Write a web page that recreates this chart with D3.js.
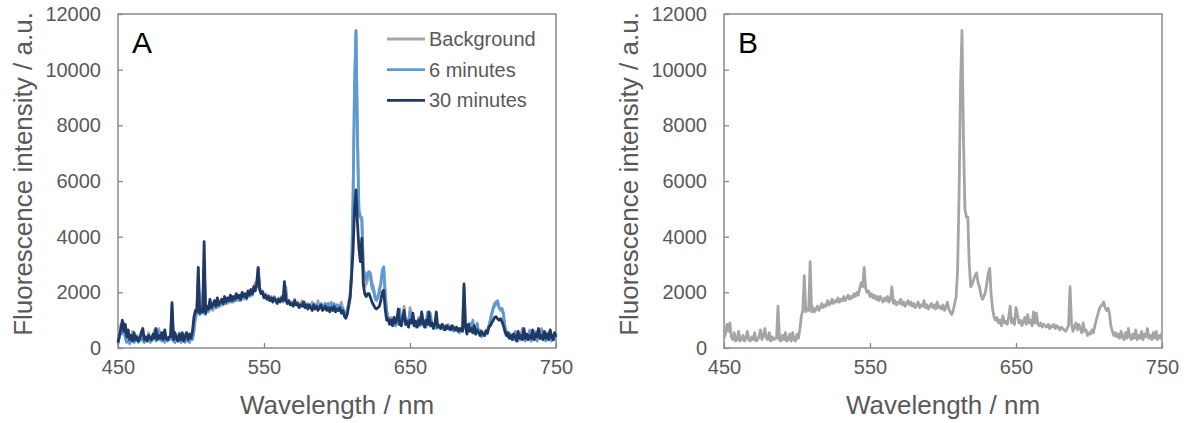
<!DOCTYPE html>
<html><head><meta charset="utf-8">
<script src="https://cdn.jsdelivr.net/npm/d3@7"></script>
<style>
html,body{margin:0;padding:0;background:#fff;}
svg{display:block;font-family:"Liberation Sans",Arial,sans-serif;}
</style></head><body>
<svg id="chart" width="1190" height="423"></svg>
<script>
// wavelength grid, 1 nm
const wavelengths = d3.range(450, 751, 1);

const background = [
350, 500, 850, 600, 900, 400, 300, 550, 250, 300,
600, 250, 300, 450, 250, 350, 600, 300, 250, 400,
300, 550, 250, 300, 400, 650, 300, 450, 700, 350,
300, 550, 250, 400, 300, 350, 350, 1500, 300, 250,
450, 300, 550, 250, 300, 500, 250, 550, 300, 250,
500, 350, 700, 1150, 1350, 2600, 1300, 1400, 1350, 3100,
1300, 1450, 1300, 1400, 1500, 1350, 1450, 1600, 1450, 1550,
1500, 1700, 1550, 1600, 1750, 1600, 1700, 1650, 1800, 1650,
1750, 1700, 1850, 1700, 1800, 1900, 1750, 1850, 1800, 1950,
1850, 2000, 1900, 2150, 2350, 2200, 2900, 2150, 2000, 2050,
1850, 1950, 1800, 1900, 1750, 1850, 1700, 1850, 1750, 1650,
1800, 1700, 1850, 1650, 1750, 2200, 1600, 1700, 1550, 1650,
1600, 1750, 1550, 1650, 1500, 1600, 1700, 1550, 1650, 1500,
1600, 1450, 1550, 1650, 1450, 1550, 1500, 1700, 1450, 1550,
1400, 1500, 1600, 1450, 1550, 1400, 1650, 1450, 1500, 1400,
1550, 1350, 1450, 1650, 1400, 1300, 1200, 1350, 1600, 1850,
2800, 5500, 9400, 11400, 7600, 5000, 4700, 4700, 3000, 2200,
2300, 2450, 2600, 2700, 2350, 2200, 1900, 1750, 1850, 2000,
2300, 2700, 2860, 1900, 1400, 1100, 1000, 1100, 900, 1000,
800, 1150, 900, 950, 850, 1100, 1500, 900, 1050, 850,
1450, 1200, 900, 1000, 800, 950, 1100, 850, 1200, 900,
1000, 800, 1300, 900, 1250, 850, 800, 900, 750, 850,
800, 750, 850, 700, 800, 750, 850, 700, 800, 750,
650, 750, 700, 650, 600, 700, 800, 2200, 900, 600,
750, 900, 650, 850, 700, 550, 900, 600, 650, 450,
550, 500, 650, 550, 800, 1000, 1200, 1400, 1500, 1550,
1650, 1450, 1350, 1430, 1250, 800, 600, 450, 550, 400,
500, 350, 600, 400, 300, 550, 350, 700, 400, 300,
500, 350, 650, 300, 450, 350, 600, 300, 500, 400,
700, 350, 450, 300, 550, 350, 600, 300, 450, 350,
550];

const sixMinutes = [
150, 400, 700, 500, 800, 350, 200, 450, 150, 300,
500, 200, 250, 400, 200, 300, 500, 250, 200, 350,
250, 450, 200, 250, 350, 550, 250, 400, 600, 300,
250, 450, 200, 350, 250, 300, 300, 1300, 250, 200,
400, 250, 450, 200, 250, 450, 200, 450, 250, 200,
400, 300, 600, 1050, 1250, 2400, 1200, 1300, 1250, 2900,
1200, 1400, 1350, 1650, 1400, 1500, 1600, 1450, 1700, 1500,
1600, 1700, 1550, 1750, 1600, 1750, 1650, 1800, 1650, 1800,
1700, 1850, 1750, 1850, 1700, 1900, 1800, 1900, 1750, 1950,
1850, 2000, 1900, 2150, 2250, 2200, 2750, 2150, 2000, 2050,
1850, 1900, 1800, 1850, 1750, 1800, 1700, 1800, 1750, 1650,
1750, 1700, 1750, 1700, 1900, 2000, 1600, 1700, 1550, 1600,
1550, 1700, 1550, 1600, 1500, 1550, 1550, 1650, 1500, 1550,
1500, 1550, 1500, 1450, 1600, 1500, 1550, 1450, 1550, 1600,
1450, 1550, 1600, 1450, 1600, 1450, 1600, 1500, 1600, 1450,
1550, 1450, 1550, 1400, 1450, 1250, 1200, 1350, 1650, 1900,
2700, 5300, 9300, 11400, 7700, 4900, 4700, 4600, 2900, 2600,
2450, 2700, 2750, 2500, 2150, 2050, 1800, 1700, 1800, 2100,
2300, 2800, 2920, 2000, 1300, 1050, 900, 1050, 850, 950,
800, 1100, 850, 1400, 800, 1050, 1200, 850, 1000, 800,
1300, 1100, 850, 950, 750, 900, 1050, 800, 1150, 850,
950, 750, 1250, 850, 1150, 800, 750, 850, 700, 800,
750, 700, 800, 650, 750, 700, 800, 650, 750, 700,
600, 700, 650, 600, 550, 650, 750, 1200, 800, 550,
700, 850, 600, 1000, 650, 500, 850, 550, 600, 400,
500, 450, 600, 500, 750, 1000, 1250, 1450, 1600, 1650,
1700, 1450, 1380, 1400, 1200, 750, 500, 400, 500, 350,
450, 300, 550, 350, 250, 500, 300, 650, 350, 250,
450, 300, 600, 250, 400, 300, 550, 250, 450, 350,
650, 300, 400, 250, 500, 300, 550, 250, 400, 300,
500];

const thirtyMinutes = [
200, 450, 700, 1000, 600, 850, 400, 650, 300, 450,
250, 550, 300, 400, 250, 350, 550, 700, 300, 400,
250, 450, 350, 300, 500, 350, 700, 300, 450, 350,
550, 300, 650, 350, 300, 400, 400, 1630, 300, 550,
350, 250, 500, 300, 550, 250, 400, 550, 300, 500,
350, 600, 1100, 1350, 1300, 2900, 1250, 1400, 1300, 3820,
1250, 1500, 1400, 1750, 1450, 1550, 1700, 1500, 1800, 1550,
1650, 1750, 1600, 1850, 1650, 1800, 1700, 1900, 1700, 1850,
1750, 1950, 1800, 1900, 1750, 2000, 1850, 1950, 1800, 2050,
1900, 2100, 1950, 2200, 2050, 2300, 2890, 2100, 1950, 2000,
1800, 1900, 1750, 1850, 1700, 1800, 1650, 1800, 1700, 1600,
1750, 1650, 1800, 1700, 2380, 1700, 1600, 1700, 1550, 1600,
1500, 1700, 1550, 1600, 1450, 1550, 1500, 1650, 1450, 1550,
1400, 1550, 1450, 1350, 1550, 1400, 1500, 1350, 1450, 1550,
1350, 1400, 1500, 1350, 1450, 1300, 1450, 1350, 1500, 1300,
1400, 1350, 1450, 1250, 1350, 1150, 1065, 1200, 1500, 1800,
2600, 3500, 5000, 5680, 4500, 3600, 3100, 3950, 2300, 1950,
1850, 1950, 1950, 1800, 1650, 1550, 1450, 1400, 1450, 1500,
1700, 2000, 2080, 1400, 1000, 1050, 850, 1000, 800, 1100,
900, 1000, 1400, 850, 800, 1100, 1350, 850, 950, 750,
1000, 900, 1250, 800, 950, 750, 1000, 850, 1300, 900,
750, 1000, 850, 1300, 800, 900, 700, 850, 1300, 750,
800, 700, 850, 750, 650, 800, 700, 750, 650, 800,
700, 650, 750, 600, 700, 650, 600, 2300, 750, 500,
850, 600, 700, 550, 800, 500, 650, 550, 450, 600,
500, 450, 600, 550, 750, 800, 900, 1000, 1100, 1125,
1050, 1000, 1050, 950, 800, 600, 450, 550, 350, 450,
300, 500, 400, 250, 600, 350, 450, 300, 700, 350,
500, 300, 450, 350, 650, 300, 500, 400, 700, 350,
450, 300, 600, 350, 500, 300, 650, 400, 300, 550,
400];

const seriesNames = ["Background", "6 minutes", "30 minutes"];
const seriesColors = ["#a5a5a5", "#5b9bd5", "#203864"];
const seriesValues = [background, sixMinutes, thirtyMinutes];
const xTicks = [450, 550, 650, 750];
const yTicks = [0, 2000, 4000, 6000, 8000, 10000, 12000];
const xTitle = "Wavelength / nm";
const yTitle = "Fluorescence intensity / a.u.";

const svg = d3.select("#chart");
const W = 438, H = 334, TOP = 14;
const TEXT = "#595959", AXIS = "#898989";

const panels = [
  {left: 118, label: "A", series: [0, 1, 2], legend: true},
  {left: 724, label: "B", series: [0], legend: false}
];

panels.forEach(p => {
  const g = svg.append("g").attr("transform", `translate(${p.left},${TOP})`);
  const x = d3.scaleLinear().domain([450, 750]).range([0, W]);
  const y = d3.scaleLinear().domain([0, 12000]).range([H, 0]);

  const xa = g.append("g").attr("transform", `translate(0,${H})`)
    .call(d3.axisBottom(x).tickValues(xTicks).tickSize(-5).tickSizeOuter(0).tickPadding(12).tickFormat(d3.format("d")));
  const ya = g.append("g")
    .call(d3.axisLeft(y).tickValues(yTicks).tickSize(-5).tickSizeOuter(0).tickPadding(17).tickFormat(d3.format("d")));
  [xa, ya].forEach(a => {
    a.select(".domain").remove();
    a.selectAll("line").attr("stroke", AXIS).attr("stroke-width", 1.3);
    a.selectAll("text").attr("fill", TEXT).style("font-size", "20px")
      .style("font-family", '"Liberation Sans", Arial, sans-serif');
  });

  g.append("rect").attr("x", 0).attr("y", 0).attr("width", W).attr("height", H)
    .attr("fill", "none").attr("stroke", AXIS).attr("stroke-width", 1.5);

  const line = d3.line().x((d, i) => x(wavelengths[i])).y(d => y(d));
  p.series.forEach(si => {
    g.append("path").datum(seriesValues[si])
      .attr("d", line).attr("fill", "none")
      .attr("stroke", seriesColors[si]).attr("stroke-width", 2.8)
      .attr("stroke-linejoin", "round");
  });

  g.append("text").attr("x", 14).attr("y", 39).text(p.label)
    .attr("fill", "#000").style("font-size", "30px");

  g.append("text").attr("x", W / 2).attr("y", 400).attr("text-anchor", "middle")
    .attr("fill", TEXT).style("font-size", "26px").text(xTitle);
  g.append("text").attr("transform", `translate(-86,${160}) rotate(-90)`)
    .attr("text-anchor", "middle").attr("fill", TEXT).style("font-size", "26px").text(yTitle);

  if (p.legend) {
    seriesNames.forEach((n, i) => {
      const ly = 25 + i * 30.7;
      g.append("line").attr("x1", 269).attr("x2", 307).attr("y1", ly).attr("y2", ly)
        .attr("stroke", seriesColors[i]).attr("stroke-width", 2.8);
      g.append("text").attr("x", 311).attr("y", ly).attr("dy", "0.35em")
        .attr("fill", TEXT).style("font-size", "20px").text(n);
    });
  }
});
</script>
</body></html>
